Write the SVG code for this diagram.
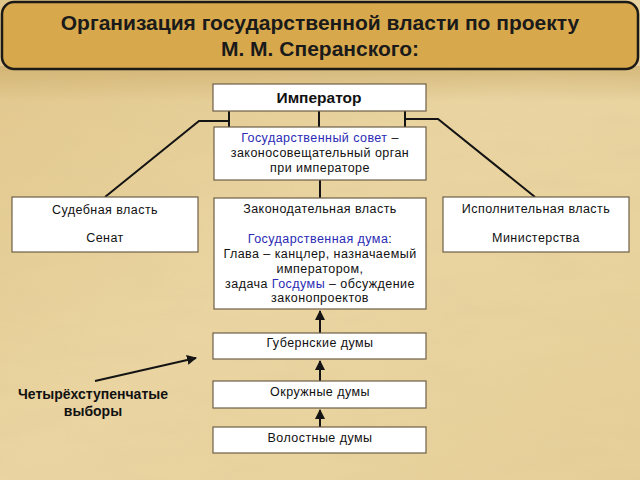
<svg xmlns="http://www.w3.org/2000/svg" width="640" height="480" viewBox="0 0 640 480">
<style>
.box{fill:#ffffff;stroke:#6e5f48;stroke-width:1.2}
.t{font-family:"Liberation Sans",Arial,sans-serif;font-size:12.5px;letter-spacing:0.45px;fill:#111;text-anchor:middle}
.b{font-weight:bold;letter-spacing:0}
.blue{fill:#2a2ab4}
.con{stroke:#141414;stroke-width:2;fill:none}
</style>
<defs>
<linearGradient id="bg" x1="0" y1="0" x2="1" y2="1">
<stop offset="0" stop-color="#e1c68a"/>
<stop offset="0.5" stop-color="#ead5a2"/>
<stop offset="1" stop-color="#e6cf98"/>
</linearGradient>
<linearGradient id="band" x1="0" y1="0" x2="0" y2="1">
<stop offset="0" stop-color="#c9a865" stop-opacity="0.6"/>
<stop offset="1" stop-color="#c9a865" stop-opacity="0"/>
</linearGradient>
<filter id="tex" x="0" y="0" width="100%" height="100%">
<feTurbulence type="fractalNoise" baseFrequency="0.012 0.05" numOctaves="3" seed="4"/>
<feColorMatrix type="matrix" values="0 0 0 0 0.72  0 0 0 0 0.58  0 0 0 0 0.32  0 0 0 1.2 -0.45"/>
</filter>
<marker id="ah" viewBox="0 0 10 10" refX="9" refY="5" markerWidth="5" markerHeight="5" orient="auto">
<path d="M0,0 L10,5 L0,10 z" fill="#141414"/>
</marker>
</defs>
<rect x="0" y="0" width="640" height="480" fill="url(#bg)"/>
<rect x="0" y="0" width="640" height="480" filter="url(#tex)" opacity="0.35"/>
<rect x="0" y="66" width="640" height="36" fill="url(#band)"/>

<g id="title">
<rect x="2" y="2" width="636" height="67" rx="12" fill="#d8a94c" stroke="#1c1a16" stroke-width="2.5"/>
<text x="320" y="30" class="t b" style="font-size:21px;fill:#1a1a1a">Организация государственной власти по проекту</text>
<text x="320" y="56" class="t b" style="font-size:21px;fill:#1a1a1a">М. М. Сперанского:</text>
</g>

<g id="connectors">
<line x1="229" y1="111" x2="229" y2="127" class="con"/>
<line x1="319" y1="111" x2="319" y2="127" class="con"/>
<line x1="405" y1="111" x2="405" y2="127" class="con"/>
<polyline points="229,121 199,121 105,197" class="con"/>
<polyline points="405,119 438,119 535,197" class="con"/>
<line x1="320" y1="180" x2="320" y2="198" class="con"/>
<line x1="320" y1="333" x2="320" y2="311" class="con" marker-end="url(#ah)"/>
<line x1="320" y1="381" x2="320" y2="361" class="con" marker-end="url(#ah)"/>
<line x1="320" y1="427" x2="320" y2="410" class="con" marker-end="url(#ah)"/>
<line x1="95" y1="381" x2="196" y2="358" class="con" marker-end="url(#ah)"/>
</g>

<g id="emperor">
<rect x="213" y="84" width="213" height="27" class="box"/>
<text x="319" y="103" class="t b" style="font-size:15.5px">Император</text>
</g>

<g id="council">
<rect x="214" y="127" width="212" height="53" class="box"/>
<text x="320" y="142" class="t"><tspan class="blue">Государственный совет</tspan> –</text>
<text x="320" y="157" class="t">законосовещательный орган</text>
<text x="320" y="172" class="t">при императоре</text>
</g>

<g id="judicial">
<rect x="12" y="197" width="186" height="55" class="box"/>
<text x="105" y="214" class="t">Судебная власть</text>
<text x="105" y="242" class="t">Сенат</text>
</g>

<g id="executive">
<rect x="443" y="197" width="186" height="55" class="box"/>
<text x="536" y="213" class="t">Исполнительная власть</text>
<text x="536" y="242" class="t">Министерства</text>
</g>

<g id="legislative">
<rect x="214" y="198" width="212" height="111" class="box"/>
<text x="320" y="213" class="t">Законодательная власть</text>
<text x="320" y="243" class="t"><tspan class="blue">Государственная дума</tspan>:</text>
<text x="320" y="258" class="t">Глава – канцлер, назначаемый</text>
<text x="320" y="273" class="t">императором,</text>
<text x="320" y="288" class="t">задача <tspan class="blue">Госдумы</tspan> – обсуждение</text>
<text x="320" y="302" class="t">законопроектов</text>
</g>

<g id="gubern">
<rect x="213" y="333" width="213" height="26" class="box"/>
<text x="320" y="347" class="t">Губернские думы</text>
</g>

<g id="okrug">
<rect x="213" y="381" width="213" height="27" class="box"/>
<text x="320" y="396" class="t">Окружные думы</text>
</g>

<g id="volost">
<rect x="213" y="427" width="213" height="26" class="box"/>
<text x="320" y="442" class="t">Волостные думы</text>
</g>

<g id="label">
<text x="93" y="399" class="t b" style="font-size:14px">Четырёхступенчатые</text>
<text x="93" y="416" class="t b" style="font-size:14px">выборы</text>
</g>
</svg>
